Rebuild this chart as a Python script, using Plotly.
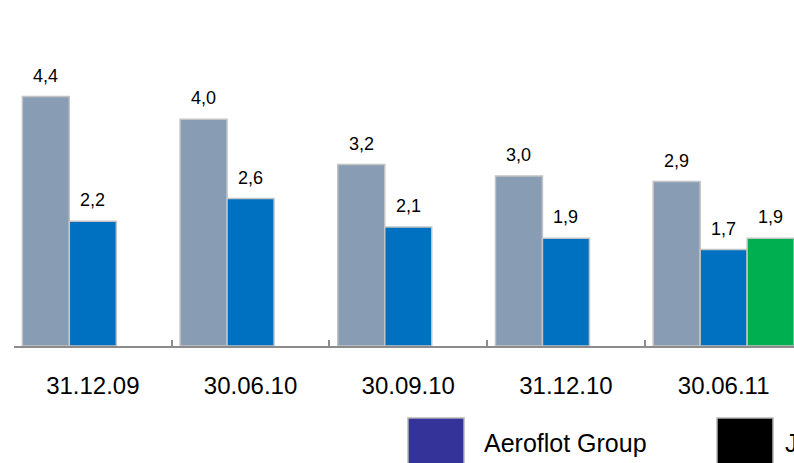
import plotly.graph_objects as go

# Report dates and values (bn), three series per date
dates = ["31.12.09", "30.06.10", "30.09.10", "31.12.10", "30.06.11"]
series_a = [4.4, 4.0, 3.2, 3.0, 2.9]
series_b = [2.2, 2.6, 2.1, 1.9, 1.7]
series_c = [None, None, None, None, 1.9]

bar_colors = ["#889db4", "#0070c0", "#00b050"]
legend_names = ["Aeroflot Group", "JSC Aeroflot"]
legend_colors = ["#333399", "#000000"]

W, H = 794, 463
ML, MB = 14, 117
plot_w = W - ML
plot_h = H - MB
cat_px = 157.7
bar_px = cat_px * (1 - 0.106) / 3
FONT = "Liberation Sans, Arial, sans-serif"

fig = go.Figure()
for vals, col in zip([series_a, series_b, series_c], bar_colors):
    fig.add_trace(go.Bar(
        x=dates, y=vals,
        marker=dict(color=col, line=dict(color="#c4c4c4", width=1.5)),
        showlegend=False, hoverinfo="skip",
    ))

# value labels above each bar
annotations = []
for k, vals in enumerate([series_a, series_b, series_c]):
    for d, v in zip(dates, vals):
        if v is None:
            continue
        annotations.append(dict(
            x=d, y=v, xref="x", yref="y",
            text=f"{v:.1f}".replace(".", ","),
            showarrow=False, yanchor="bottom", xanchor="center",
            xshift=(k - 1) * bar_px, yshift=9,
            font=dict(family=FONT, size=18, color="#000000"),
        ))

# legend drawn as squares with captions beneath the axis
def px_x(p):
    return (p - ML) / plot_w

def px_y(p):
    return (plot_h - p) / plot_h

shapes = []
for name, col, x0, gap in zip(legend_names, legend_colors, [408, 717], [74, 66]):
    shapes.append(dict(
        type="rect", xref="paper", yref="paper",
        x0=px_x(x0), x1=px_x(x0 + 56), y0=px_y(418), y1=px_y(475),
        fillcolor=col, line=dict(color="#b4b4b4", width=1.5),
    ))
    annotations.append(dict(
        x=px_x(x0 + gap), y=px_y(443), xref="paper", yref="paper",
        text=name, showarrow=False, xanchor="left", yanchor="middle",
        font=dict(family=FONT, size=25, color="#000000"),
    ))

fig.update_layout(
    width=W, height=H,
    margin=dict(l=ML, r=0, t=0, b=MB, pad=0),
    paper_bgcolor="white", plot_bgcolor="white",
    barmode="group", bargap=0.106, bargroupgap=0,
    annotations=annotations, shapes=shapes,
    xaxis=dict(
        type="category",
        range=[-0.5, -0.5 + plot_w / cat_px],
        showline=True, linecolor="#8c8c8c", linewidth=2,
        ticks="inside", tickson="boundaries", ticklen=6,
        tickcolor="#8c8c8c", tickwidth=1.5,
        showgrid=False, zeroline=False,
        tickfont=dict(family=FONT, size=24, color="#000000"),
        ticklabelstandoff=17,
    ),
    yaxis=dict(
        range=[0, plot_h / 56.7],
        visible=False, showgrid=False, zeroline=False,
    ),
    showlegend=False,
)

fig.write_html("out.html")
